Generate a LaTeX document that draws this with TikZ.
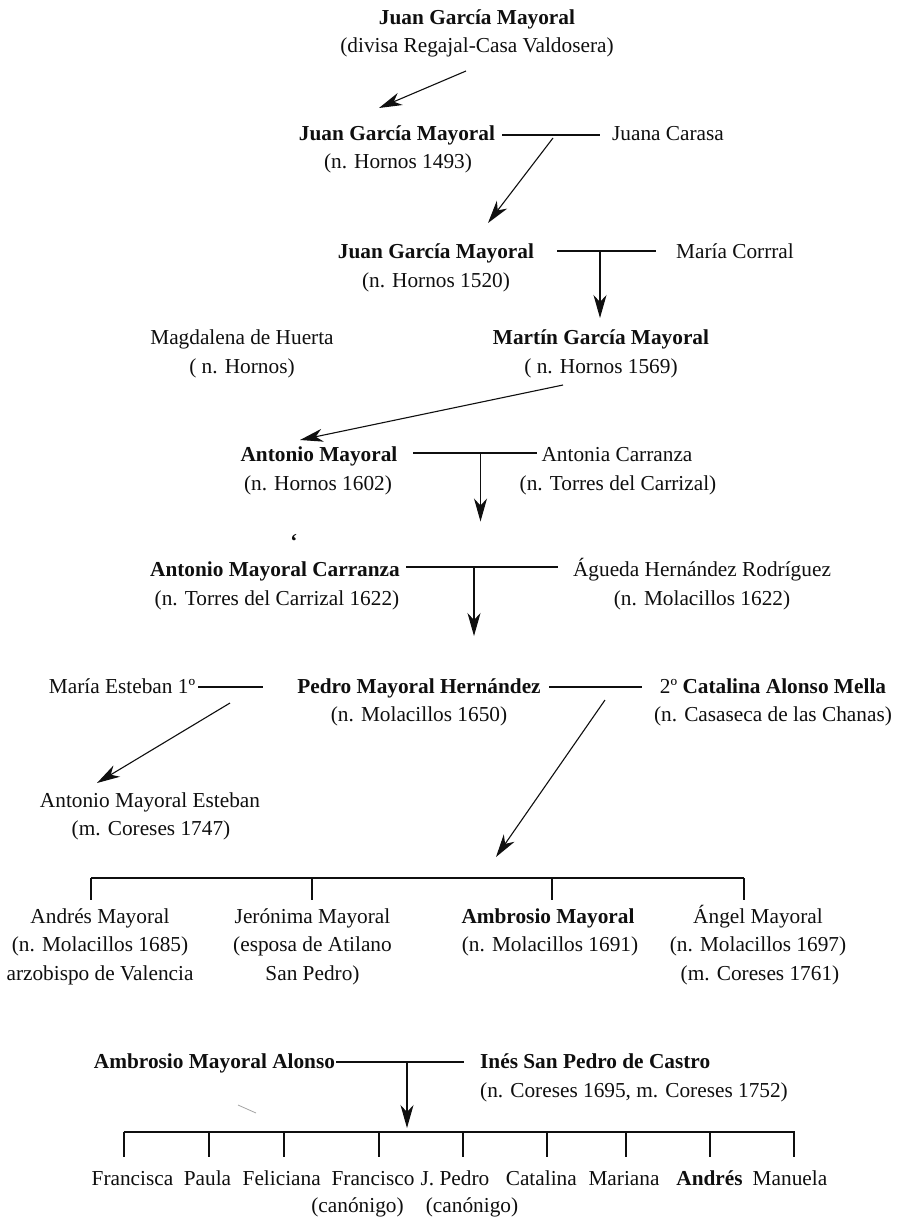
\documentclass[tikz,border=0pt]{standalone}
\usepackage{fontspec}
\setmainfont{Liberation Serif}
\usetikzlibrary{arrows.meta}
\definecolor{ink}{gray}{0.06}
\tikzset{
  lbl/.style={anchor=base, inner sep=0pt, text=ink, font=\fontsize{21.3}{28}\selectfont},
  blbl/.style={lbl, font=\fontsize{21.3}{28}\selectfont\bfseries},
  lblw/.style={lbl, anchor=base west},
  blblw/.style={blbl, anchor=base west},
  link/.style={draw=ink, line width=1.1pt},
  descent/.style={link, -{Stealth[length=23pt,width=13pt,inset=7pt]}},
  tick/.style={link},
}
\begin{document}
\begin{tikzpicture}[x=1pt,y=-1pt]
\useasboundingbox (0,0) rectangle (899,1218);
\fill[white] (0,0) rectangle (899,1218);

% ---- generation 1
\node[blbl] (g1a) at (477,24) {Juan García Mayoral};
\node[lbl]  (g1b) at (477,52) {(divisa Regajal-Casa Valdosera)};
\coordinate (a1s) at (466,71);
\coordinate (a1e) at (379,108);
\draw[descent] (a1s) -- (a1e);

% ---- generation 2
\node[blbl] (g2a) at (397,140) {Juan García Mayoral};
\node[lbl]  (g2b) at (398,168) {(n. Hornos 1493)};
\node[lbl]  (w2)  at (668,140) {Juana Carasa};
\coordinate (m2l) at (502,135);
\coordinate (m2r) at (600,135);
\draw[link] (m2l) -- (m2r);
\coordinate (a2s) at (553,138);
\coordinate (a2e) at (488,223);
\draw[descent] (a2s) -- (a2e);

% ---- generation 3
\node[blbl] (g3a) at (436,258) {Juan García Mayoral};
\node[lbl]  (g3b) at (436,287) {(n. Hornos 1520)};
\node[lbl]  (w3)  at (735,258) {María Corrral};
\coordinate (m3l) at (557,251);
\coordinate (m3r) at (656,251);
\draw[link] (m3l) -- (m3r);
\coordinate (a3s) at (600,251);
\coordinate (a3e) at (600,318);
\draw[descent] (a3s) -- (a3e);

% ---- generation 4
\node[lbl]  (w4a) at (242,344) {Magdalena de Huerta};
\node[lbl]  (w4b) at (242,373) {( n. Hornos)};
\node[blbl] (g4a) at (601,344) {Martín García Mayoral};
\node[lbl]  (g4b) at (601,373) {( n. Hornos 1569)};
\coordinate (a4s) at (563,385);
\coordinate (a4e) at (300,440);
\draw[descent] (a4s) -- (a4e);

% ---- generation 5
\node[blbl] (g5a) at (319,461) {Antonio Mayoral};
\node[lbl]  (g5b) at (318,490) {(n. Hornos 1602)};
\node[lbl]  (w5a) at (617,461) {Antonia Carranza};
\node[lbl]  (w5b) at (618,490) {(n. Torres del Carrizal)};
\coordinate (m5l) at (413,453);
\coordinate (m5r) at (537,453);
\draw[link] (m5l) -- (m5r);
\coordinate (a5s) at (480.5,453);
\coordinate (a5e) at (480.5,521.5);
\draw[descent] (a5s) -- (a5e);
\node[blbl] (q) at (294,548) {‘};

% ---- generation 6
\node[blbl] (g6a) at (275,576) {Antonio Mayoral Carranza};
\node[lbl]  (g6b) at (277,605) {(n. Torres del Carrizal 1622)};
\node[lbl]  (w6a) at (702,576) {Águeda Hernández Rodríguez};
\node[lbl]  (w6b) at (702,605) {(n. Molacillos 1622)};
\coordinate (m6l) at (406,567);
\coordinate (m6r) at (558,567);
\draw[link] (m6l) -- (m6r);
\coordinate (a6s) at (474,567);
\coordinate (a6e) at (474,636);
\draw[descent] (a6s) -- (a6e);

% ---- generation 7
\node[lbl]  (w7l) at (122,693) {María Esteban 1º};
\node[blbl] (g7a) at (419,693) {Pedro Mayoral Hernández};
\node[lbl]  (g7b) at (419,721) {(n. Molacillos 1650)};
\node[lbl]  (w7ra) at (773,693) {2º \textbf{Catalina Alonso Mella}};
\node[lbl]  (w7rb) at (773,721) {(n. Casaseca de las Chanas)};
\coordinate (m7al) at (198,687);
\coordinate (m7ar) at (263,687);
\draw[link] (m7al) -- (m7ar);
\coordinate (m7bl) at (549,687);
\coordinate (m7br) at (642,687);
\draw[link] (m7bl) -- (m7br);
\coordinate (a7ls) at (230,703);
\coordinate (a7le) at (97,783);
\draw[descent] (a7ls) -- (a7le);
\coordinate (a7rs) at (605,700);
\coordinate (a7re) at (496,857);
\draw[descent] (a7rs) -- (a7re);

\node[lbl] (s1a) at (150,807) {Antonio Mayoral Esteban};
\node[lbl] (s1b) at (151,835) {(m. Coreses 1747)};

% ---- children of Pedro
\coordinate (b1l) at (91,878);
\coordinate (b1r) at (744,878);
\draw[link] (b1l) -- (b1r);
\foreach \x in {91,312,552,744} {
  \coordinate (t1top\x) at (\x,878);
  \coordinate (t1bot\x) at (\x,900);
  \draw[tick] (t1top\x) -- (t1bot\x);
}
\node[lbl]  (c1a) at (100,923) {Andrés Mayoral};
\node[lbl]  (c1b) at (100,951) {(n. Molacillos 1685)};
\node[lbl]  (c1c) at (100,980) {arzobispo de Valencia};
\node[lbl]  (c2a) at (312.5,923) {Jerónima Mayoral};
\node[lbl]  (c2b) at (312.5,951) {(esposa de Atilano};
\node[lbl]  (c2c) at (312.5,980) {San Pedro)};
\node[blbl] (c3a) at (548,923) {Ambrosio Mayoral};
\node[lbl]  (c3b) at (550,951) {(n. Molacillos 1691)};
\node[lbl]  (c4a) at (758,923) {Ángel Mayoral};
\node[lbl]  (c4b) at (758,951) {(n. Molacillos 1697)};
\node[lbl]  (c4c) at (760,980) {(m. Coreses 1761)};

% ---- generation 8
\node[blbl]  (g8a) at (214.5,1068) {Ambrosio Mayoral Alonso};
\node[blblw] (w8a) at (480,1068) {Inés San Pedro de Castro};
\node[lblw]  (w8b) at (480,1097) {(n. Coreses 1695, m. Coreses 1752)};
\coordinate (m8l) at (336,1062);
\coordinate (m8r) at (464,1062);
\draw[link] (m8l) -- (m8r);
\coordinate (a8s) at (407,1062);
\coordinate (a8e) at (407,1128);
\draw[descent] (a8s) -- (a8e);

\coordinate (b2l) at (123.5,1132);
\coordinate (b2r) at (795,1132);
\draw[link] (b2l) -- (b2r);
\foreach \x in {124,209,284,379,463,547,626,710,794} {
  \coordinate (t2top\x) at (\x,1132);
  \coordinate (t2bot\x) at (\x,1157);
  \draw[tick] (t2top\x) -- (t2bot\x);
}
\node[lbl]  (k1) at (132.5,1185) {Francisca};
\node[lbl]  (k2) at (207.5,1185) {Paula};
\node[lbl]  (k3) at (281.7,1185) {Feliciana};
\node[lbl]  (k4) at (373,1185) {Francisco};
\node[lbl]  (k5) at (455,1185) {J. Pedro};
\node[lbl]  (k6) at (541.3,1185) {Catalina};
\node[lbl]  (k7) at (624,1185) {Mariana};
\node[blbl] (k8) at (709.5,1185) {Andrés};
\node[lbl]  (k9) at (790,1185) {Manuela};
\node[lbl]  (k4b) at (357.5,1212) {(canónigo)};
\node[lbl]  (k5b) at (472,1212) {(canónigo)};

% stray scan mark
\coordinate (sm1) at (238,1105);
\coordinate (sm2) at (256,1113);
\draw[gray!70, line width=0.8pt] (sm1) -- (sm2);
\end{tikzpicture}
\end{document}
